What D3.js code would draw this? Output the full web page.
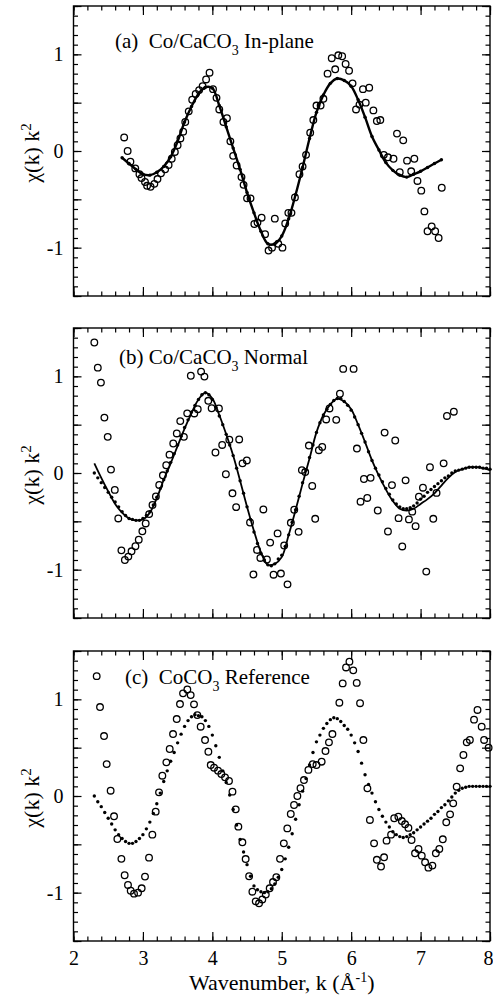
<!DOCTYPE html>
<html>
<head>
<meta charset="utf-8">
<script src="https://cdn.jsdelivr.net/npm/d3@7"></script>
<style>
  body { margin: 0; background: #fff; }
</style>
</head>
<body>
<div id="chart"></div>
<script>
// ---- axes / ticks ----
const xMajorTicks = [2, 3, 4, 5, 6, 7, 8];
const yMajorTicks = [-1.5, -1, -0.5, 0, 0.5, 1, 1.5];
const yLabelTicks = [-1, 0, 1];

// ---- (a) Co/CaCO3 In-plane ----
// measured points [k, chi*k^2]
const aMeasured = [
  [2.73, 0.14], [2.78, 0.00], [2.82, -0.11], [2.89, -0.18], [2.95, -0.24], [2.98, -0.28],
  [3.03, -0.32], [3.06, -0.36], [3.11, -0.37], [3.165, -0.34], [3.21, -0.29], [3.26, -0.23],
  [3.32, -0.19], [3.37, -0.145], [3.415, -0.08], [3.46, -0.01], [3.50, 0.06], [3.54, 0.13],
  [3.58, 0.20], [3.61, 0.30], [3.66, 0.41], [3.71, 0.53], [3.76, 0.59], [3.81, 0.63],
  [3.86, 0.67], [3.91, 0.74], [3.96, 0.81], [4.01, 0.64], [4.06, 0.55], [4.10, 0.43],
  [4.16, 0.30], [4.21, 0.34], [4.26, 0.10], [4.30, -0.05], [4.35, -0.15], [4.42, -0.27],
  [4.45, -0.35], [4.50, -0.49], [4.55, -0.49], [4.605, -0.755], [4.65, -0.74], [4.71, -0.69],
  [4.76, -0.86], [4.81, -1.03], [4.86, -1.00], [4.90, -0.70], [4.95, -0.96], [5.01, -1.00],
  [5.05, -0.75], [5.095, -0.64], [5.14, -0.64], [5.19, -0.48], [5.255, -0.24], [5.30, -0.16],
  [5.35, -0.04], [5.41, 0.19], [5.455, 0.32], [5.50, 0.47], [5.56, 0.47], [5.60, 0.54],
  [5.66, 0.80], [5.72, 0.96], [5.77, 0.845], [5.815, 0.99], [5.87, 0.98], [5.92, 0.90],
  [5.97, 0.83], [6.02, 0.70], [6.07, 0.43], [6.12, 0.48], [6.17, 0.64], [6.21, 0.50],
  [6.26, 0.655], [6.32, 0.42], [6.37, 0.31], [6.42, 0.32], [6.47, -0.04], [6.53, -0.065],
  [6.61, -0.08], [6.66, 0.18], [6.70, -0.22], [6.75, 0.11], [6.805, -0.10], [6.865, -0.21],
  [6.91, -0.08], [6.955, -0.31], [7.01, -0.41], [7.055, -0.625], [7.10, -0.83], [7.16, -0.78],
  [7.21, -0.83], [7.26, -0.90], [7.305, -0.38]
];
// fit, sampled every 0.1 from k = 2.7
const aFitStart = 2.7, aFitStep = 0.1;
const aFit = [
  -0.07, -0.13, -0.19,
  -0.24, -0.25, -0.22, -0.16, -0.06, 0.10, 0.30, 0.46, 0.59, 0.66,
  0.65, 0.47, 0.25, 0.03, -0.19, -0.43, -0.64, -0.83, -0.96, -0.96,
  -0.88, -0.70, -0.45, -0.17, 0.13, 0.40, 0.58, 0.70, 0.75, 0.73,
  0.67, 0.53, 0.35, 0.15, 0.01, -0.12, -0.20, -0.25, -0.27, -0.24,
  -0.21, -0.17, -0.13, -0.09
];

// ---- (b) Co/CaCO3 Normal ----
const bMeasured = [
  [2.30, 1.35], [2.35, 1.09], [2.395, 0.935], [2.445, 0.573], [2.493, 0.374], [2.54, 0.035],
  [2.595, -0.175], [2.645, -0.47], [2.69, -0.80], [2.74, -0.90], [2.79, -0.865], [2.836, -0.81],
  [2.892, -0.757], [2.94, -0.69], [2.992, -0.603], [3.04, -0.522], [3.09, -0.425], [3.138, -0.33],
  [3.187, -0.242], [3.235, -0.123], [3.288, -0.024], [3.336, 0.08], [3.383, 0.19], [3.437, 0.305],
  [3.488, 0.409], [3.538, 0.537], [3.59, 0.374], [3.638, 0.617], [3.69, 1.006], [3.74, 0.616],
  [3.79, 0.66], [3.838, 1.049], [3.886, 0.997], [3.942, 0.747], [3.99, 0.67], [4.045, 0.212],
  [4.095, 0.668], [4.142, 0.29], [4.195, -0.013], [4.245, 0.345], [4.29, -0.21], [4.343, -0.353],
  [4.387, 0.347], [4.435, 0.10], [4.497, 0.13], [4.543, -0.512], [4.592, -1.05], [4.644, -0.796],
  [4.692, -0.879], [4.735, -0.377], [4.786, -0.895], [4.833, -0.72], [4.882, -1.052], [4.94, -0.625],
  [4.988, -1.04], [5.035, -0.75], [5.083, -1.152], [5.131, -0.515], [5.18, -0.38], [5.243, -0.609],
  [5.29, 0.03], [5.338, 0.01], [5.391, 0.284], [5.439, -0.134], [5.482, -0.474], [5.535, 0.236],
  [5.583, 0.27], [5.64, 0.554], [5.688, 0.668], [5.785, 0.55], [5.838, 0.82], [5.885, 1.077],
  [6.035, 1.077], [6.083, 0.253], [6.135, -0.297], [6.184, -0.062], [6.232, -0.258], [6.28, -0.05],
  [6.383, -0.388], [6.482, 0.418], [6.53, -0.605], [6.588, -0.125], [6.635, 0.336], [6.683, -0.467],
  [6.736, -0.76], [6.784, -0.076], [6.832, -0.48], [6.88, -0.40], [6.928, -0.55], [6.976, -0.245],
  [7.034, -0.152], [7.082, -1.02], [7.135, 0.06], [7.183, -0.474], [7.23, -0.206], [7.332, 0.10],
  [7.38, 0.59], [7.479, 0.634]
];
// solid fit, every 0.1 from k = 2.3
const bLineStart = 2.3, bLineStep = 0.1;
const bLine = [
  0.10, -0.05, -0.19, -0.32, -0.41, -0.47, -0.49,
  -0.48, -0.41, -0.26, -0.07, 0.10, 0.28, 0.46, 0.62, 0.76, 0.83,
  0.77, 0.60, 0.40, 0.18, -0.08, -0.35, -0.60, -0.82, -0.95, -0.94,
  -0.87, -0.64, -0.38, -0.11, 0.15, 0.42, 0.60, 0.71, 0.77, 0.74,
  0.66, 0.50, 0.32, 0.13, -0.03, -0.17, -0.29, -0.37, -0.39, -0.37,
  -0.32, -0.27, -0.21, -0.13, -0.05, 0.01, 0.04, 0.06, 0.06, 0.05,
  0.03
];
// dotted fit, every 0.05 from k = 2.3
const bDotsStart = 2.3, bDotsStep = 0.05;
const bDots = [
  0.00, -0.05, -0.10, -0.15, -0.20, -0.25, -0.30, -0.35, -0.40, -0.44, -0.47, -0.48, -0.49, -0.49,
  -0.47, -0.44, -0.40, -0.33, -0.25, -0.16, -0.07, 0.02, 0.11, 0.20,
  0.29, 0.38, 0.47, 0.55, 0.63, 0.70, 0.76, 0.81, 0.83, 0.81,
  0.76, 0.68, 0.59, 0.50, 0.40, 0.29, 0.18, 0.05, -0.08, -0.21,
  -0.35, -0.48, -0.61, -0.73, -0.83, -0.90, -0.95, -0.96, -0.94, -0.89,
  -0.85, -0.76, -0.64, -0.51, -0.38, -0.24, -0.10, 0.03, 0.16, 0.29,
  0.42, 0.52, 0.60, 0.66, 0.71, 0.75, 0.77, 0.77, 0.74, 0.70,
  0.65, 0.58, 0.50, 0.41, 0.32, 0.22, 0.13, 0.05, -0.02, -0.09,
  -0.16, -0.22, -0.28, -0.32, -0.35, -0.37, -0.37, -0.36, -0.34, -0.31,
  -0.27, -0.24, -0.20, -0.17, -0.14, -0.11, -0.08, -0.05, -0.03, 0.00,
  0.02, 0.03, 0.04, 0.05, 0.06, 0.06, 0.06, 0.06, 0.05, 0.05,
  0.04
];

// ---- (c) CoCO3 Reference ----
const cMeasured = [
  [2.334, 1.24], [2.382, 0.92], [2.44, 0.62], [2.478, 0.33], [2.535, 0.055], [2.584, -0.21],
  [2.632, -0.445], [2.69, -0.65], [2.737, -0.82], [2.785, -0.92], [2.824, -0.98], [2.872, -1.01],
  [2.93, -1.00], [2.982, -0.955], [3.03, -0.834], [3.088, -0.638], [3.136, -0.40], [3.184, -0.162],
  [3.232, 0.038], [3.28, 0.21], [3.338, 0.348], [3.386, 0.486], [3.434, 0.641], [3.487, 0.796],
  [3.534, 0.951], [3.578, 1.062], [3.64, 1.103], [3.688, 1.044], [3.736, 0.948], [3.784, 0.837],
  [3.832, 0.717], [3.895, 0.579], [3.943, 0.458], [3.977, 0.32], [4.025, 0.293], [4.082, 0.262],
  [4.13, 0.227], [4.183, 0.193], [4.24, 0.155], [4.29, 0.045], [4.337, -0.138], [4.375, -0.317],
  [4.433, -0.479], [4.48, -0.652], [4.53, -0.83], [4.577, -0.99], [4.625, -1.09], [4.673, -1.11],
  [4.72, -1.07], [4.77, -1.02], [4.826, -0.955], [4.874, -0.89], [4.922, -0.84], [4.975, -0.65],
  [5.03, -0.49], [5.08, -0.335], [5.13, -0.186], [5.177, -0.093], [5.225, 0.0], [5.27, 0.08],
  [5.32, 0.165], [5.384, 0.27], [5.446, 0.33], [5.50, 0.32], [5.575, 0.355], [5.63, 0.465],
  [5.68, 0.555], [5.73, 0.641], [5.83, 0.965], [5.878, 1.165], [5.926, 1.33], [5.975, 1.39],
  [6.03, 1.30], [6.08, 1.17], [6.128, 0.96], [6.176, 0.579], [6.234, 0.079], [6.27, -0.248],
  [6.33, -0.49], [6.37, -0.66], [6.43, -0.73], [6.474, -0.634], [6.51, -0.462], [6.575, -0.40],
  [6.62, -0.23], [6.68, -0.214], [6.73, -0.259], [6.777, -0.293], [6.825, -0.33], [6.87, -0.455],
  [6.92, -0.593], [6.97, -0.548], [7.017, -0.617], [7.065, -0.686], [7.113, -0.741], [7.17, -0.72],
  [7.22, -0.593], [7.27, -0.548], [7.32, -0.448], [7.37, -0.272], [7.425, -0.19], [7.47, -0.076],
  [7.52, 0.096], [7.57, 0.286], [7.617, 0.424], [7.665, 0.555], [7.71, 0.58], [7.77, 0.79],
  [7.82, 0.89], [7.88, 0.717], [7.915, 0.58], [7.98, 0.50]
];
// dotted fit, every 0.05 from k = 2.3
const cDotsStart = 2.3, cDotsStep = 0.05;
const cDots = [
  0.00, -0.06, -0.11, -0.17, -0.23, -0.29, -0.35, -0.40, -0.44, -0.47, -0.49, -0.49, -0.47, -0.44,
  -0.40, -0.34, -0.27, -0.18, -0.08, 0.03, 0.15, 0.26, 0.36, 0.45,
  0.55, 0.64, 0.72, 0.78, 0.82, 0.84, 0.83, 0.82, 0.78, 0.72,
  0.63, 0.52, 0.40, 0.26, 0.14, 0.01, -0.14, -0.30, -0.45, -0.58,
  -0.71, -0.83, -0.93, -0.97, -0.99, -1.00, -0.99, -0.96, -0.91, -0.84,
  -0.76, -0.65, -0.53, -0.39, -0.24, -0.09, 0.05, 0.18, 0.32, 0.45,
  0.56, 0.63, 0.70, 0.75, 0.79, 0.81, 0.80, 0.77, 0.73, 0.69,
  0.63, 0.55, 0.46, 0.34, 0.22, 0.12, 0.03, -0.06, -0.14, -0.21,
  -0.27, -0.32, -0.37, -0.40, -0.42, -0.43, -0.42, -0.40, -0.38, -0.35,
  -0.32, -0.29, -0.26, -0.23, -0.19, -0.16, -0.12, -0.09, -0.05, -0.01,
  0.03, 0.06, 0.08, 0.09, 0.10, 0.10, 0.10, 0.10, 0.10, 0.10,
  0.10
];

// put k back on the sampled fit values
const sampled = (start, step, vals) => vals.map((v, i) => [start + i * step, v]);

const panels = [
  { top: 6, pre: "(a)  Co/CaCO", post: " In-plane", lx: 115, ly: 47.5,
    measured: aMeasured, line: sampled(aFitStart, aFitStep, aFit), lineWidth: 2.4,
    dots: sampled(aFitStart, aFitStep, aFit) },
  { top: 328, pre: "(b) Co/CaCO", post: " Normal", lx: 119, ly: 364,
    measured: bMeasured, line: sampled(bLineStart, bLineStep, bLine), lineWidth: 1.8,
    dots: sampled(bDotsStart, bDotsStep, bDots) },
  { top: 651, pre: "(c)  CoCO", post: " Reference", lx: 125, ly: 684,
    measured: cMeasured, line: null, lineWidth: 0,
    dots: sampled(cDotsStart, cDotsStep, cDots) }
];

// 1) SVG
const width = 493, height = 1000;
const plotLeft = 73.5, plotRight = 490, panelH = 290;
const font = "'Liberation Serif', 'Times New Roman', serif";

const svg = d3.select("#chart")
  .append("svg")
  .attr("width", width)
  .attr("height", height)
  .style("background", "#fff");

const x = d3.scaleLinear().domain([2, 8]).range([plotLeft, plotRight]);
const xMinor = d3.range(0, 31).map(i => 2 + i * 0.2);
const yMinor = d3.range(0, 31).map(i => -1.5 + i * 0.1);

panels.forEach((p, pi) => {
  const y = d3.scaleLinear().domain([-1.5, 1.5]).range([p.top + panelH, p.top]);
  const g = svg.append("g");

  // 2) fit curves
  if (p.line) {
    g.append("path")
      .datum(p.line)
      .attr("fill", "none")
      .attr("stroke", "#000")
      .attr("stroke-width", p.lineWidth)
      .attr("stroke-linejoin", "round")
      .attr("d", d3.line().curve(d3.curveCatmullRom).x(d => x(d[0])).y(d => y(d[1])));
  }
  g.selectAll("circle.fit")
    .data(p.dots)
    .enter()
    .append("circle")
    .attr("class", "fit")
    .attr("cx", d => x(d[0]))
    .attr("cy", d => y(d[1]))
    .attr("r", 1.7)
    .attr("fill", "#000");

  // 3) measured open circles
  g.selectAll("circle.meas")
    .data(p.measured)
    .enter()
    .append("circle")
    .attr("class", "meas")
    .attr("cx", d => x(d[0]))
    .attr("cy", d => y(d[1]))
    .attr("r", 3.3)
    .attr("fill", "none")
    .attr("stroke", "#000")
    .attr("stroke-width", 1.3);

  // 4) ticks on all four sides, pointing inward
  const bottom = p.top + panelH;
  const addAxis = (axis, tx, ty) => {
    const a = g.append("g").attr("transform", `translate(${tx},${ty})`).call(axis);
    a.select(".domain").remove();
    a.selectAll("line").attr("stroke", "#000").attr("stroke-width", 1.2);
    return a;
  };
  addAxis(d3.axisBottom(x).tickValues(xMinor).tickSize(-4.5).tickFormat(""), 0, bottom);
  addAxis(d3.axisBottom(x).tickValues(xMajorTicks).tickSize(-9).tickFormat(""), 0, bottom);
  addAxis(d3.axisTop(x).tickValues(xMinor).tickSize(-4.5).tickFormat(""), 0, p.top);
  addAxis(d3.axisTop(x).tickValues(xMajorTicks).tickSize(-9).tickFormat(""), 0, p.top);
  addAxis(d3.axisLeft(y).tickValues(yMinor).tickSize(-4.5).tickFormat(""), plotLeft, 0);
  addAxis(d3.axisLeft(y).tickValues(yMajorTicks).tickSize(-8).tickFormat(""), plotLeft, 0);
  addAxis(d3.axisRight(y).tickValues(yMinor).tickSize(-4.5).tickFormat(""), plotRight, 0);
  addAxis(d3.axisRight(y).tickValues(yMajorTicks).tickSize(-8).tickFormat(""), plotRight, 0);

  // y tick labels
  const yl = addAxis(d3.axisLeft(y).tickValues(yLabelTicks).tickSize(0).tickPadding(10)
    .tickFormat(d => String(d)), plotLeft, 0);
  yl.selectAll("text").attr("font-family", font).attr("font-size", 20).attr("fill", "#000");

  // x tick labels only under the last panel
  if (pi === panels.length - 1) {
    const xl = addAxis(d3.axisBottom(x).tickValues(xMajorTicks).tickSize(0).tickPadding(10)
      .tickFormat(d => String(d)), 0, bottom);
    xl.selectAll("text").attr("font-family", font).attr("font-size", 20).attr("fill", "#000");
    // last label sits at the page edge: keep it inside
    xl.selectAll("text").filter(d => d === 8).attr("text-anchor", "end").attr("x", 3);
  }

  // frame
  g.append("rect")
    .attr("x", plotLeft)
    .attr("y", p.top)
    .attr("width", plotRight - plotLeft)
    .attr("height", panelH)
    .attr("fill", "none")
    .attr("stroke", "#000")
    .attr("stroke-width", 1.4);

  // panel label with subscript 3
  const lab = g.append("text")
    .attr("x", p.lx)
    .attr("y", p.ly)
    .attr("font-family", font)
    .attr("font-size", 21)
    .attr("fill", "#000")
    .style("white-space", "pre");
  lab.append("tspan").attr("fill", "#000").text(p.pre);
  lab.append("tspan").attr("fill", "#000").attr("dy", 7).attr("font-size", 14).text("3");
  lab.append("tspan").attr("fill", "#000").attr("dy", -7).text(p.post);

  // y axis title
  const yt = g.append("text")
    .attr("transform", `translate(39,${p.top + panelH / 2 + 2}) rotate(-90)`)
    .attr("text-anchor", "middle")
    .attr("font-family", font)
    .attr("font-size", 22)
    .attr("fill", "#000")
    .style("white-space", "pre");
  yt.append("tspan").text("χ(k) k");
  yt.append("tspan").attr("dy", -8).attr("font-size", 15).text("2");
});

// x axis title
const xt = svg.append("text")
  .attr("x", (plotLeft + plotRight) / 2)
  .attr("y", 990)
  .attr("text-anchor", "middle")
  .attr("font-family", font)
  .attr("font-size", 22)
  .attr("fill", "#000");
xt.append("tspan").text("Wavenumber, k (Å");
xt.append("tspan").attr("dy", -8).attr("font-size", 14).text("-1");
xt.append("tspan").attr("dy", 8).text(")");
</script>
</body>
</html>
